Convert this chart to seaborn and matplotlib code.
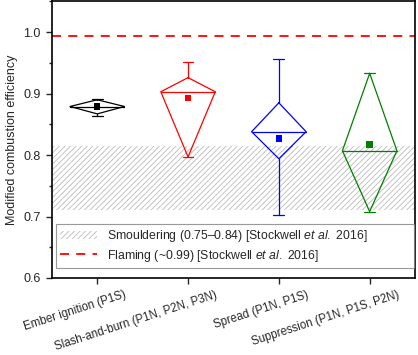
import matplotlib
matplotlib.use("Agg")
import pandas as pd
import seaborn as sns
import matplotlib.pyplot as plt
from matplotlib.lines import Line2D
from matplotlib.patches import Patch
from matplotlib.ticker import MultipleLocator
from matplotlib.transforms import ScaledTranslation

sns.set_style("ticks")
plt.rcParams["font.family"] = ["Liberation Sans", "DejaVu Sans"]
plt.rcParams["mathtext.fontset"] = "custom"
plt.rcParams["mathtext.rm"] = "Liberation Sans"
plt.rcParams["mathtext.it"] = "Liberation Sans:italic"
plt.rcParams["hatch.linewidth"] = 0.6

categories = ["Ember ignition (P1S)", "Slash-and-burn (P1N, P2N, P3N)",
              "Spread (P1N, P1S)", "Suppression (P1N, P1S, P2N)"]
q1 = [0.867, 0.797, 0.794, 0.708]
median = [0.879, 0.903, 0.838, 0.807]
q3 = [0.890, 0.926, 0.885, 0.933]
whisk_lo = [0.864, 0.797, 0.703, 0.708]
whisk_hi = [0.891, 0.951, 0.956, 0.933]
means = [0.879, 0.893, 0.827, 0.817]
colors = ["black", "red", "blue", "green"]

smoulder_lo, smoulder_hi = 0.711, 0.815
flaming = 0.993

df = pd.DataFrame({"group": categories, "mean": means})

fig, ax = plt.subplots(figsize=(4.18, 3.55), dpi=100)
fig.subplots_adjust(left=0.124, right=0.993, top=0.996, bottom=0.217)

# smouldering band and flaming line
ax.axhspan(smoulder_lo, smoulder_hi, facecolor="none", edgecolor="#bbbbbb",
           hatch="//////", linewidth=0, zorder=0)
ax.axhline(flaming, color="red", linestyle=(0, (5, 4)), linewidth=1.3, zorder=1)

# diamond boxes
w = 0.30
cap = 0.06
for i in range(len(categories)):
    c = colors[i]
    ax.plot([i, i + w, i, i - w, i], [q3[i], median[i], q1[i], median[i], q3[i]],
            color=c, lw=0.9)
    ax.plot([i - w, i + w], [median[i], median[i]], color=c, lw=0.9)
    ax.plot([i, i], [q3[i], whisk_hi[i]], color=c, lw=0.9)
    ax.plot([i, i], [q1[i], whisk_lo[i]], color=c, lw=0.9)
    ax.plot([i - cap, i + cap], [whisk_hi[i], whisk_hi[i]], color=c, lw=0.9)
    ax.plot([i - cap, i + cap], [whisk_lo[i], whisk_lo[i]], color=c, lw=0.9)

sns.scatterplot(data=df, x="group", y="mean", hue="group", palette=colors,
                marker="s", s=22, edgecolor="none", legend=False, ax=ax, zorder=3)

ax.set_xlim(-0.5, 3.5)
ax.set_ylim(0.6, 1.05)
ax.yaxis.set_major_locator(MultipleLocator(0.1))
ax.yaxis.set_minor_locator(MultipleLocator(0.05))
ax.set_xlabel("")
ax.set_ylabel("Modified combustion efficiency", fontsize=9, labelpad=4)
ax.tick_params(axis="both", which="major", direction="out", length=4.5,
               width=1.0, labelsize=9)
ax.tick_params(axis="x", labelsize=8.3)
ax.tick_params(axis="y", which="minor", direction="out", length=2.5, width=1.0)
for s in ax.spines.values():
    s.set_linewidth(1.2)
    s.set_color("black")

ax.set_xticks(range(len(categories)))
ax.set_xticklabels(categories, rotation=18, ha="right", va="top",
                   rotation_mode="anchor")
offset = ScaledTranslation(0.27, 0, fig.dpi_scale_trans)
for lab in ax.get_xticklabels():
    lab.set_transform(lab.get_transform() + offset)

handles = [
    Patch(facecolor="none", edgecolor="#bbbbbb", hatch="//////", linewidth=0),
    Line2D([0], [0], color="red", linestyle=(0, (5, 4)), linewidth=1.3),
]
labels = [
    r"Smouldering (0.75–0.84) [Stockwell $\mathit{et\ al.}$ 2016]",
    r"Flaming (~0.99) [Stockwell $\mathit{et\ al.}$ 2016]",
]
leg = ax.legend(handles, labels, loc="lower left",
                bbox_to_anchor=(0.011, 0.036, 0.986, 0.148), mode="expand",
                fontsize=8.8, frameon=True, fancybox=False, borderaxespad=0,
                handlelength=3.0, handletextpad=0.8, labelspacing=0.3,
                borderpad=0.35)
leg.get_frame().set_edgecolor("#808080")
leg.get_frame().set_linewidth(0.8)

fig.savefig("out.png", dpi=100)
